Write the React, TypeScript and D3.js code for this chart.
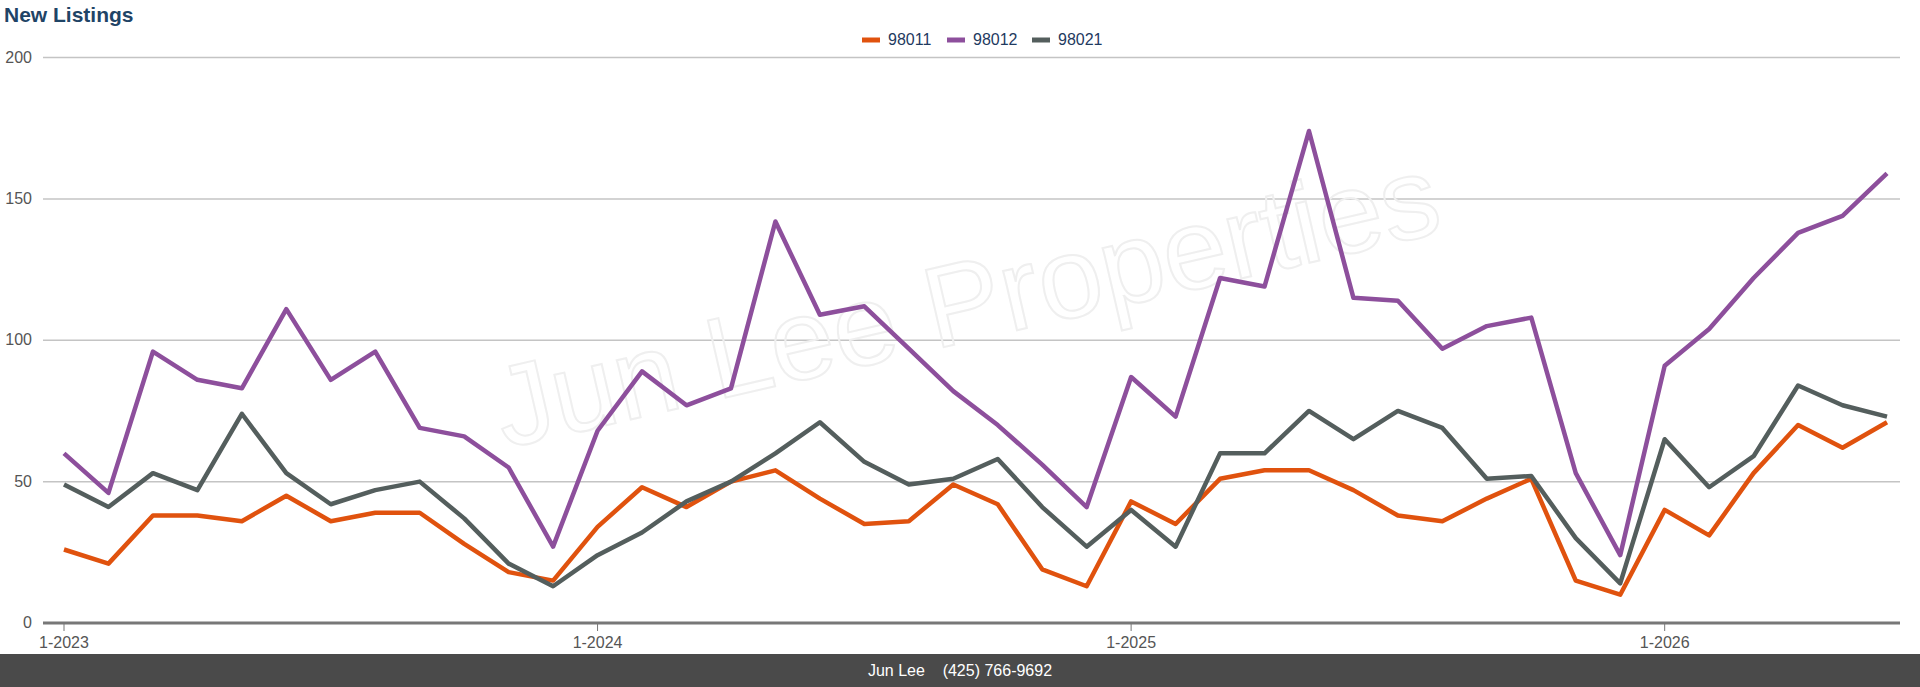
import * as d3 from "d3";

const months: string[] = [];
for (let y = 2023; y <= 2026; y++) for (let m = 1; m <= 12; m++) if (!(y === 2026 && m > 6)) months.push(`${m}-${y}`);

const s98011 = [26,21,38,38,36,45,36,39,39,28,18,15, 34,48,41,50,54,44,35,36,49,42,19,13, 43,35,51,54,54,47,38,36,44,51,15,10, 40,31,53,70,62,71];
const s98012 = [60,46,96,86,83,111,86,96,69,66,55,27, 68,89,77,83,142,109,112,97,82,70,56,41, 87,73,122,119,174,115,114,97,105,108,53,24, 91,104,122,138,144,159];
const s98021 = [49,41,53,47,74,53,42,47,50,37,21,13, 24,32,43,50,60,71,57,49,51,58,41,27, 40,27,60,60,75,65,75,69,51,52,30,14, 65,48,59,84,77,73];

const series = [
  { name: "98011", color: "#e0520e", values: s98011 },
  { name: "98012", color: "#8d4f9c", values: s98012 },
  { name: "98021", color: "#545e5d", values: s98021 },
];
const yTicks = [0, 50, 100, 150, 200];
const xTickLabels = ["1-2023", "1-2024", "1-2025", "1-2026"];

export default function App() {
  const W = 1920, H = 687;
  const left = 43, right = 1900, top = 57.5, bottom = 623;
  const x = d3.scalePoint<string>().domain(months).range([64, 1887]);
  const y = d3.scaleLinear().domain([0, 200]).range([bottom, top]);
  const line = d3.line<number>().x((_, i) => x(months[i])!).y(d => y(d));
  const font = "Liberation Sans, Arial, sans-serif";
  return (
    <svg width={W} height={H} style={{ position: "absolute", left: 0, top: 0 }} fontFamily={font}>
      <text x={4} y={22} fontSize={21} fontWeight="bold" fill="#1f4466">New Listings</text>
      <g transform="translate(1000,40)">
        {series.map((s, i) => (
          <g key={s.name} transform={`translate(${-112 + i * 85},0)`}>
            <line x1={-26} x2={-8} y1={0} y2={0} stroke={s.color} strokeWidth={5} />
            <text x={0} y={5} fontSize={16} fill="#1f3a5f">{s.name}</text>
          </g>
        ))}
      </g>
      {yTicks.map(t => (
        <g key={t}>
          <line x1={left} x2={right} y1={y(t)} y2={y(t)} stroke={t === 0 ? "#777" : "#c4c4c4"} strokeWidth={t === 0 ? 3 : 1.5} />
          <text x={32} y={y(t) + 5} fontSize={16} fill="#555" textAnchor="end">{t}</text>
        </g>
      ))}
      {xTickLabels.map(l => (
        <g key={l}>
          <line x1={x(l)!} x2={x(l)!} y1={bottom} y2={bottom + 8} stroke="#777" />
          <text x={x(l)!} y={648} fontSize={16} fill="#555" textAnchor="middle">{l}</text>
        </g>
      ))}
      <text x={0} y={0} transform="translate(975,340) rotate(-13)" fontSize={115} fill="none" stroke="#efefef" strokeWidth={2} textAnchor="middle">Jun Lee Properties</text>
      {series.map(s => (
        <path key={s.name} d={line(s.values)!} fill="none" stroke={s.color} strokeWidth={4.5} strokeLinejoin="round" />
      ))}
      <rect x={0} y={654} width={W} height={33} fill="#4a4a4a" />
      <text x={960} y={676} fontSize={16} fill="#fff" textAnchor="middle" xmlSpace="preserve">Jun Lee    (425) 766-9692</text>
    </svg>
  );
}
